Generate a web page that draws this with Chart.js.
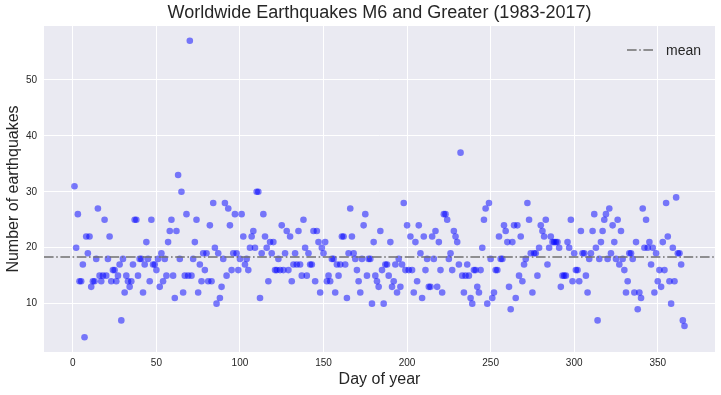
<!DOCTYPE html>
<html>
<head>
<meta charset="utf-8">
<script src="https://cdn.jsdelivr.net/npm/chart.js@4.4.1/dist/chart.umd.min.js"></script>
<style>
  html, body { margin: 0; padding: 0; background: #fff; }
  #wrap { position: relative; width: 721px; height: 395px; }
</style>
</head>
<body>
<div id="wrap"><canvas id="chart" width="721" height="395"></canvas></div>
<script>
'use strict';

/* earthquake count per day of year, day 1 .. 366 */
const COUNTS = [
  31, 20, 26, 14, 14, 17,  4, 22, 19, 22,
  13, 14, 14, 18, 27, 15, 14, 15, 25, 15,
  18, 22, 14, 16, 16, 14, 15, 17,  7, 18,
  12, 15, 14, 13, 14, 17, 25, 25, 15, 18,
  18, 12, 17, 21, 18, 14, 25, 17, 17, 16,
  18, 13, 19, 14, 18, 15, 21, 23, 25, 15,
  11, 23, 33, 18, 30, 12, 15, 26, 15, 57,
  15, 18, 21, 25, 12, 17, 14, 19, 16, 19,
  14, 24, 14, 28, 20, 10, 19, 11, 13, 18,
  28, 15, 27, 24, 16, 19, 26, 19, 16, 18,
  26, 22, 17, 18, 16, 20, 22, 23, 20, 30,
  30, 11, 19, 26, 22, 20, 14, 21, 19, 21,
  16, 16, 18, 16, 24, 16, 19, 23, 16, 22,
  14, 17, 19, 17, 23, 17, 15, 25, 20, 15,
  19, 17, 17, 23, 14, 23, 21, 12, 20, 19,
  21, 14, 15, 14, 18, 18, 12, 17, 15, 17,
  22, 22, 17, 11, 19, 27, 22, 19, 18, 16,
  14, 12, 18, 24, 26, 15, 18, 18, 10, 21,
  15, 14, 13, 23, 16, 10, 17, 17, 15, 21,
  13, 14, 17, 12, 18, 13, 17, 28, 16, 24,
  16, 22, 16, 12, 21, 14, 24, 19, 11, 22,
  16, 18, 13, 13, 22, 18, 23, 13, 21, 16,
  12, 26, 26, 25, 18, 19, 16, 23, 22, 21,
  17, 37, 15, 12, 15, 17, 15, 11, 10, 16,
  16, 13, 12, 16, 20, 25, 27, 10, 28, 18,
  11, 12, 16, 16, 22, 18, 18, 24, 23, 21,
  13,  9, 21, 24, 11, 24, 15, 22, 14, 17,
  18, 28, 25, 19, 12, 19, 19, 15, 20, 24,
  23, 22, 25, 17, 20, 22, 21, 21, 21, 21,
  20, 13, 15, 15, 15, 21, 20, 25, 14, 19,
  16, 16, 14, 23, 19, 19, 15, 12, 18, 19,
  23, 26, 20,  7, 18, 21, 23, 25, 26, 18,
  27, 19, 24, 21, 18, 25, 17, 23, 18, 16,
  12, 14, 19, 19, 18, 12, 21,  9, 12, 11,
  27, 20, 25, 20, 21, 17, 20, 12, 19, 14,
  16, 13, 21, 16, 28, 22, 14, 10, 20, 14,
  29, 19, 19, 17,  7,  6,
];
const DAYS = COUNTS.map((_, i) => i + 1);

const X_TICKS = [0, 50, 100, 150, 200, 250, 300, 350];
const Y_TICKS = [10, 20, 30, 40, 50];
const X_RANGE = [-17.25, 384.25];
const Y_RANGE = [1.35, 59.65];

const MEAN = COUNTS.reduce((a, b) => a + b, 0) / COUNTS.length;

const FONT  = "'Liberation Sans', Arial, sans-serif";
const TEXT  = '#262626';
const BG    = '#eaeaf2';
const MEANC = '#707070';
const DASH  = [9.6, 2.6, 1.6, 2.6];

Chart.defaults.font.family = FONT;
Chart.defaults.color = TEXT;

/* ── axes background (seaborn darkgrid) ── */
const plotBg = {
  id: 'plotBg',
  beforeDraw(chart) {
    const { ctx, chartArea: a } = chart;
    ctx.save();
    ctx.fillStyle = BG;
    ctx.fillRect(a.left, a.top, a.right - a.left, a.bottom - a.top);
    ctx.restore();
  },
};

/* ── legend inside the axes, upper right ── */
const meanLegend = {
  id: 'meanLegend',
  afterDraw(chart) {
    const { ctx, chartArea: a } = chart;
    const y = a.top + 24;
    ctx.save();
    ctx.strokeStyle = MEANC;
    ctx.lineWidth = 1.6;
    ctx.setLineDash(DASH);
    ctx.beginPath();
    ctx.moveTo(a.right - 88, y);
    ctx.lineTo(a.right - 62, y);
    ctx.stroke();
    ctx.setLineDash([]);
    ctx.fillStyle = TEXT;
    ctx.font = '14px ' + FONT;
    ctx.textBaseline = 'alphabetic';
    ctx.fillText('mean', a.right - 49, y + 4.5);
    ctx.restore();
  },
};

new Chart(document.getElementById('chart'), {
  type: 'scatter',
  data: {
    datasets: [
      {
        type: 'line',
        label: 'mean',
        data: [{ x: X_RANGE[0], y: MEAN }, { x: X_RANGE[1], y: MEAN }],
        borderColor: MEANC,
        borderWidth: 1.6,
        borderDash: DASH,
        pointRadius: 0,
        fill: false,
      },
      {
        label: 'count',
        data: DAYS.map((d, i) => ({ x: d, y: COUNTS[i] })),
        backgroundColor: 'rgba(0,0,255,0.5)',
        borderWidth: 0,
        pointRadius: 3.3,
        pointHoverRadius: 3.3,
      },
    ],
  },
  options: {
    responsive: false,
    animation: false,
    events: [],
    layout: { padding: { left: 0, right: 6, top: 0, bottom: 0 } },
    plugins: {
      legend: { display: false },
      tooltip: { enabled: false },
      title: { display: false },
    },
    scales: {
      x: {
        type: 'linear',
        position: 'bottom',
        min: X_RANGE[0], max: X_RANGE[1],
        afterBuildTicks: s => { s.ticks = X_TICKS.map(v => ({ value: v })); },
        afterFit: s => { s.height = 43; },
        ticks: { font: { size: 10 }, color: TEXT, padding: 5, maxRotation: 0 },
        grid: { color: '#ffffff', lineWidth: 1, drawTicks: false },
        border: { display: false },
        title: {
          display: true, text: 'Day of year',
          font: { size: 16 }, color: TEXT,
          padding: { top: 0, bottom: 5.4 },
        },
      },
      xTop: {
        type: 'linear',
        position: 'top',
        min: X_RANGE[0], max: X_RANGE[1],
        afterFit: s => { s.height = 26; },
        ticks: { display: false },
        grid: { display: false, drawTicks: false },
        border: { display: false },
        title: {
          display: true, text: 'Worldwide Earthquakes M6 and Greater (1983-2017)',
          font: { size: 18 }, color: TEXT,
          padding: { top: 2.7, bottom: 0 },
        },
      },
      y: {
        type: 'linear',
        min: Y_RANGE[0], max: Y_RANGE[1],
        afterBuildTicks: s => { s.ticks = Y_TICKS.map(v => ({ value: v })); },
        afterFit: s => { s.width = 44; },
        ticks: { font: { size: 10 }, color: TEXT, padding: 7 },
        grid: { color: '#ffffff', lineWidth: 1, drawTicks: false },
        border: { display: false },
        title: {
          display: true, text: 'Number of earthquakes',
          font: { size: 16 }, color: TEXT,
          padding: { top: 4.4, bottom: 0 },
        },
      },
    },
  },
  plugins: [plotBg, meanLegend],
});
</script>
</body>
</html>
